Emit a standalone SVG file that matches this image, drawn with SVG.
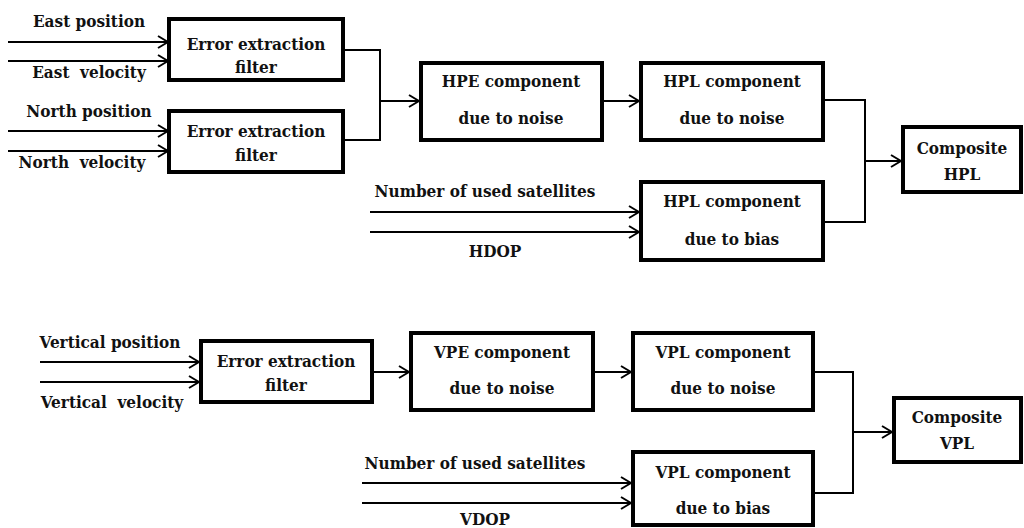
<svg xmlns="http://www.w3.org/2000/svg" width="1024" height="528" viewBox="0 0 1024 528">
<defs>
<style>
.box{fill:#fff;stroke:#000;stroke-width:4}
.ln{fill:none;stroke:#000;stroke-width:2}
text{font-family:'DejaVu Serif Condensed','DejaVu Serif',serif;font-stretch:condensed;font-weight:bold;font-size:17px;fill:#111}
.c{text-anchor:middle}
.pre{white-space:pre}
</style>
<marker id="ah" viewBox="0 0 12 14" refX="11" refY="7" markerWidth="12" markerHeight="14" markerUnits="userSpaceOnUse" orient="auto">
<path d="M1,1 L11,7 L1,13" fill="none" stroke="#000" stroke-width="2"/>
</marker>
</defs>
<rect width="1024" height="528" fill="#fff"/>
<g id="connectors">
<line class="ln" x1="8" y1="42" x2="168" y2="42" marker-end="url(#ah)"/>
<line class="ln" x1="8" y1="61" x2="168" y2="61" marker-end="url(#ah)"/>
<line class="ln" x1="8" y1="131" x2="168" y2="131" marker-end="url(#ah)"/>
<line class="ln" x1="8" y1="151" x2="168" y2="151" marker-end="url(#ah)"/>
<polyline class="ln" points="343,50 380,50 380,140 343,140"/>
<line class="ln" x1="380" y1="101" x2="419" y2="101" marker-end="url(#ah)"/>
<line class="ln" x1="602" y1="101" x2="639" y2="101" marker-end="url(#ah)"/>
<line class="ln" x1="370" y1="212" x2="639" y2="212" marker-end="url(#ah)"/>
<line class="ln" x1="370" y1="232" x2="639" y2="232" marker-end="url(#ah)"/>
<polyline class="ln" points="823,100 865,100 865,222 823,222"/>
<line class="ln" x1="865" y1="161" x2="901" y2="161" marker-end="url(#ah)"/>
<line class="ln" x1="40" y1="362" x2="199" y2="362" marker-end="url(#ah)"/>
<line class="ln" x1="40" y1="382" x2="199" y2="382" marker-end="url(#ah)"/>
<line class="ln" x1="372" y1="372" x2="409" y2="372" marker-end="url(#ah)"/>
<line class="ln" x1="593" y1="372" x2="631" y2="372" marker-end="url(#ah)"/>
<line class="ln" x1="362" y1="483" x2="631" y2="483" marker-end="url(#ah)"/>
<line class="ln" x1="362" y1="503" x2="631" y2="503" marker-end="url(#ah)"/>
<polyline class="ln" points="813,372 853,372 853,493 813,493"/>
<line class="ln" x1="853" y1="432" x2="892" y2="432" marker-end="url(#ah)"/>
</g>
<g id="labels">
<text x="89" y="27" class="c">East position</text>
<text x="89" y="78" class="c pre">East  velocity</text>
<text x="89" y="117" class="c">North position</text>
<text x="82" y="168" class="c pre">North  velocity</text>
<text x="485" y="197" class="c">Number of used satellites</text>
<text x="495" y="257" class="c">HDOP</text>
<text x="110" y="348" class="c">Vertical position</text>
<text x="112" y="408" class="c pre">Vertical  velocity</text>
<text x="475" y="469" class="c">Number of used satellites</text>
<text x="485" y="525" class="c">VDOP</text>
</g>
<g id="eef1"><rect class="box" x="169" y="19" width="174" height="61"/><text x="256" y="50" class="c">Error extraction</text><text x="256" y="73" class="c">filter</text></g>
<g id="eef2"><rect class="box" x="169" y="111" width="174" height="61"/><text x="256" y="137" class="c">Error extraction</text><text x="256" y="161" class="c">filter</text></g>
<g id="hpe"><rect class="box" x="421" y="63" width="181" height="77"/><text x="511" y="87" class="c">HPE component</text><text x="511" y="124" class="c">due to noise</text></g>
<g id="hpl-noise"><rect class="box" x="641" y="63" width="182" height="77"/><text x="732" y="87" class="c">HPL component</text><text x="732" y="124" class="c">due to noise</text></g>
<g id="hpl-bias"><rect class="box" x="641" y="182" width="182" height="78"/><text x="732" y="207" class="c">HPL component</text><text x="732" y="245" class="c">due to bias</text></g>
<g id="comp-hpl"><rect class="box" x="903" y="127" width="118" height="65"/><text x="962" y="154" class="c">Composite</text><text x="962" y="180" class="c">HPL</text></g>
<g id="eef3"><rect class="box" x="201" y="341" width="171" height="61"/><text x="286" y="367" class="c">Error extraction</text><text x="286" y="391" class="c">filter</text></g>
<g id="vpe"><rect class="box" x="411" y="333" width="182" height="77"/><text x="502" y="358" class="c">VPE component</text><text x="502" y="394" class="c">due to noise</text></g>
<g id="vpl-noise"><rect class="box" x="633" y="333" width="180" height="77"/><text x="723" y="358" class="c">VPL component</text><text x="723" y="394" class="c">due to noise</text></g>
<g id="vpl-bias"><rect class="box" x="633" y="452" width="180" height="73"/><text x="723" y="478" class="c">VPL component</text><text x="723" y="514" class="c">due to bias</text></g>
<g id="comp-vpl"><rect class="box" x="894" y="398" width="127" height="64"/><text x="957" y="423" class="c">Composite</text><text x="957" y="449" class="c">VPL</text></g>
</svg>
